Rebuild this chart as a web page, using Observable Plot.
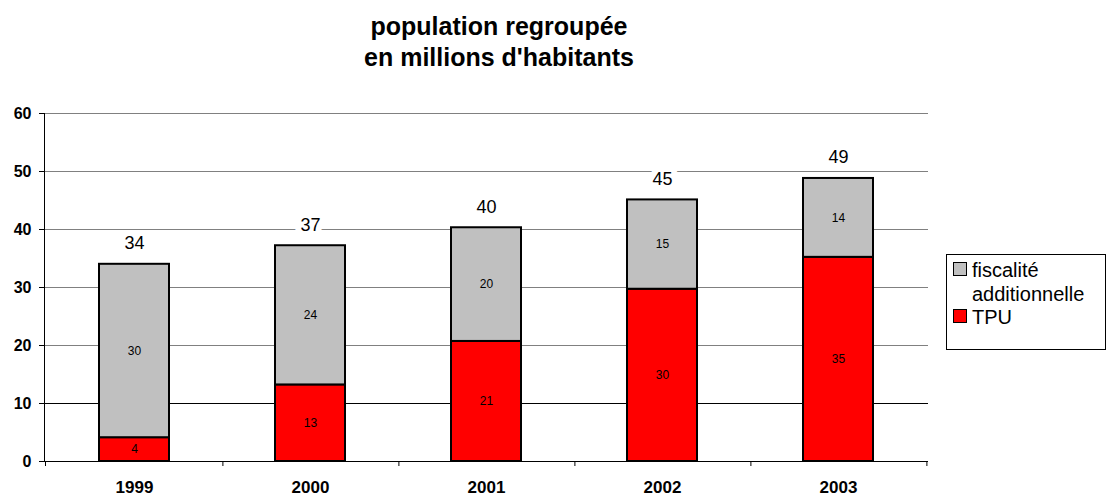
<!DOCTYPE html>
<html>
<head>
<meta charset="utf-8">
<script src="https://cdn.jsdelivr.net/npm/d3@7"></script>
<script src="https://cdn.jsdelivr.net/npm/@observablehq/plot@0.6"></script>
<style>
  body { margin: 0; background: #fff; font-family: "Liberation Sans", Arial, sans-serif; }
  #wrap { position: relative; width: 1109px; height: 498px; overflow: hidden; }
  #title { position: absolute; left: 0; width: 998px; top: 11px; text-align: center; font-weight: bold; font-size: 25px; line-height: 31px; color: #000; }
  #legend { position: absolute; left: 946px; top: 254px; width: 158px; height: 94px; border: 1px solid #000; background: #fff; }
  .sw { position: absolute; width: 12px; height: 12px; border: 1.5px solid #000; }
  .lt { position: absolute; font-size: 20px; line-height: 20px; color: #000; white-space: nowrap; }
  #chart { position: absolute; left: 0; top: 0; }
</style>
</head>
<body>
<div id="wrap">
  <div id="chart"></div>
  <div id="title">population regroupée<br>en millions d'habitants</div>
  <div id="legend"></div>
</div>
<script>
const years = ["1999", "2000", "2001", "2002", "2003"];
const tpu = [4.1, 13.2, 20.7, 29.7, 35.2];
const fiscalite = [29.9, 24.0, 19.6, 15.4, 13.6];
const yTicks = [0, 10, 20, 30, 40, 50, 60];
const seriesNames = ["TPU", "fiscalité additionnelle"];
const seriesColors = ["#FF0000", "#C0C0C0"];

const rows = [];
years.forEach((yr, i) => {
  rows.push({year: yr, series: seriesNames[0], y1: 0, y2: tpu[i], v: tpu[i]});
  rows.push({year: yr, series: seriesNames[1], y1: tpu[i], y2: tpu[i] + fiscalite[i], v: fiscalite[i]});
});
const totals = years.map((yr, i) => ({year: yr, total: tpu[i] + fiscalite[i]}));
const fmt = d3.format(".0f");

const chart = Plot.plot({
  width: 1109,
  height: 498,
  marginLeft: 44,
  marginRight: 181,
  marginTop: 113,
  marginBottom: 37,
  style: {fontFamily: "'Liberation Sans', Arial, sans-serif", background: "transparent", overflow: "visible"},
  x: {domain: years, paddingInner: 0.6, paddingOuter: 0.3, label: null},
  y: {domain: [0, 60], label: null},
  color: {domain: seriesNames, range: seriesColors},
  marks: [
    Plot.ruleY(yTicks.filter(d => d > 0), {y: d => d, stroke: d => d === 10 ? "#000" : "#808080", strokeWidth: 1}),
    Plot.ruleY([0], {stroke: "#000", strokeWidth: 1}),
    Plot.frame({anchor: "left", stroke: "#000", strokeWidth: 1}),
    Plot.ruleX(years, {x: d => d, dx: 88.4, insetTop: 343, dy: 5, stroke: "#000", strokeWidth: 1}),
    Plot.ruleX(years.slice(0, 1), {x: d => d, dx: -89, insetTop: 343, dy: 5, stroke: "#000", strokeWidth: 1}),
    Plot.axisY({ticks: yTicks, tickSize: 5, tickPadding: 8, fontSize: 16, fontWeight: "bold", stroke: "#000", fill: "#000"}),
    Plot.axisX({tickSize: 0, tickPadding: 19, fontSize: 17, fontWeight: "bold", fill: "#000"}),
    Plot.rectY(rows, {x: "year", y1: "y1", y2: "y2", fill: "series", stroke: "#000", strokeWidth: 2}),
    Plot.text(rows, {x: "year", y: d => (d.y1 + d.y2) / 2, text: d => fmt(d.v), fontSize: 12, fill: "#000"}),
    Plot.text(totals, {x: "year", y: "total", text: d => fmt(d.total), dy: -21, fontSize: 18, fill: "#000", stroke: "#fff", strokeWidth: 12, paintOrder: "stroke"})
  ]
});
document.getElementById("chart").appendChild(chart);

const legend = document.getElementById("legend");
const legendItems = [
  {color: seriesColors[1], lines: ["fiscalité", "additionnelle"], top: 7, textTop: 5, gap: 24},
  {color: seriesColors[0], lines: [seriesNames[0]], top: 54, textTop: 52, gap: 0}
];
legendItems.forEach(item => {
  const sw = document.createElement("div");
  sw.className = "sw";
  sw.style.left = "6px";
  sw.style.top = item.top + "px";
  sw.style.background = item.color;
  legend.appendChild(sw);
  item.lines.forEach((ln, j) => {
    const t = document.createElement("div");
    t.className = "lt";
    t.style.left = "25px";
    t.style.top = (item.textTop + j * item.gap) + "px";
    t.textContent = ln;
    legend.appendChild(t);
  });
});
</script>
</body>
</html>
